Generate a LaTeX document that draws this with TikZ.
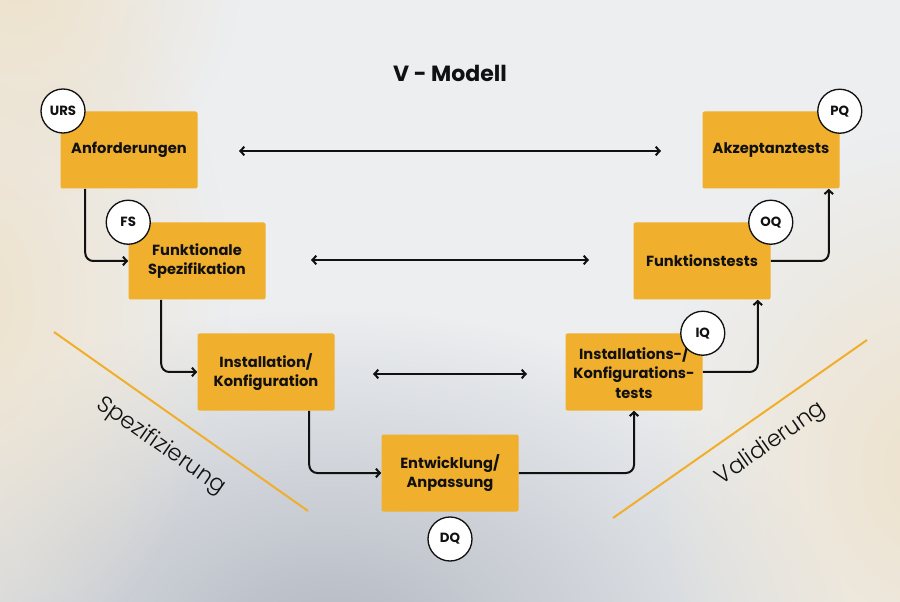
\documentclass[tikz,border=0pt]{standalone}
\usepackage{fontspec}
\setmainfont{Poppins}
\newfontfamily\lightfont{Poppins Light}
\usetikzlibrary{arrows.meta,calc,fadings}
\definecolor{bg}{HTML}{ECEEF0}
\definecolor{boxc}{HTML}{F1AF2E}
\definecolor{linec}{HTML}{F0AE2A}
\definecolor{ink}{HTML}{111111}
\definecolor{warm}{HTML}{EEE2CC}
\definecolor{shadow}{HTML}{B4B9C3}
\tikzfading[name=softglow, inner color=transparent!0, outer color=transparent!100]
\begin{document}
\begin{tikzpicture}[x=0.75pt,y=-0.75pt,
  stepbox/.style={fill=boxc, rounded corners=1.5pt, minimum width=102.75pt, minimum height=57.75pt,
    align=center, font=\bfseries\fontsize{11}{14.6}\selectfont, text=ink, inner sep=0pt},
  tag/.style={circle, draw=ink, fill=white, line width=1pt, minimum size=33pt, inner sep=0pt,
    font=\bfseries\fontsize{10}{12}\selectfont, text=ink},
  conn/.style={draw=ink, line width=1.5pt, rounded corners=6pt,
    -{Straight Barb[length=3pt,width=6.5pt]}},
  both/.style={draw=ink, line width=1.5pt,
    {Straight Barb[length=3pt,width=6.5pt]}-{Straight Barb[length=3pt,width=6.5pt]}},
  sideline/.style={draw=linec, line width=1.5pt},
  phase/.style={font=\lightfont\fontsize{17}{20}\selectfont, text=ink},
  title/.style={font=\bfseries\fontsize{16.5}{20}\selectfont, text=ink}]

\useasboundingbox (0,0) rectangle (900,602);
\begin{scope}
  \clip (0,0) rectangle (900,602);
  \fill[bg] (0,0) rectangle (900,602);
  \fill[shadow, path fading=softglow] (330,640) ellipse (520 and 330);
  \fill[warm, path fading=softglow] (-30,300) ellipse (260 and 380);
  \fill[warm, path fading=softglow] (930,470) ellipse (280 and 340);
  \fill[warm, path fading=softglow] (20,-20) circle (220);
\end{scope}

% title
\node[title] (title) at (450,73) {V - Modell};

% boxes
\node[stepbox] (anf)  at (129,150) {Anforderungen};
\node[stepbox] (fs)   at (197,261) {Funktionale\\Spezifikation};
\node[stepbox] (inst) at (266,372) {Installation/\\Konfiguration};
\node[stepbox] (entw) at (450,473) {Entwicklung/\\Anpassung};
\node[stepbox] (iqb)  at (634,372) {Installations-/\\Konfigurations-\\tests};
\node[stepbox] (funk) at (702,261) {Funktionstests};
\node[stepbox] (akz)  at (771,150) {Akzeptanztests};

% connectors down the V
\draw[conn] ($(anf.south west)+(25,0)$) |- (fs.west);
\draw[conn] ($(fs.south west)+(33,0)$) |- (inst.west);
\draw[conn] ($(inst.south west)+(112,0)$) |- (entw.west);
\draw[conn] (entw.east) -| (iqb.south);
\draw[conn] (iqb.east) -| ($(funk.south east)+(-13,0)$);
\draw[conn] (funk.east) -| ($(akz.south east)+(-11,0)$);

% correspondences
\coordinate (r1a) at (239,151); \coordinate (r1b) at (661,151);
\coordinate (r2a) at (311,260); \coordinate (r2b) at (589,260);
\coordinate (r3a) at (373,374); \coordinate (r3b) at (527,374);
\draw[both] (r1a) -- (r1b);
\draw[both] (r2a) -- (r2b);
\draw[both] (r3a) -- (r3b);

% tags
\node[tag] (urs) at (63,111) {URS};
\node[tag] (fst) at (fs.north west) {FS};
\node[tag] (iq)  at (iqb.north east) {IQ};
\node[tag] (oq)  at (funk.north east) {OQ};
\node[tag] (pq)  at (akz.north east) {PQ};
\node[tag] (dq)  at (450,539) {DQ};

% phase lines
\coordinate (l1) at (54,332); \coordinate (l2) at (308,511);
\coordinate (v1) at (613,518); \coordinate (v2) at (867,340);
\draw[sideline] (l1) -- (l2);
\draw[sideline] (v1) -- (v2);
\node[phase, rotate=-35] (spez) at (161,446) {Spezifizierung};
\node[phase, rotate=35] (vali) at (771,444) {Validierung};
\end{tikzpicture}
\end{document}
